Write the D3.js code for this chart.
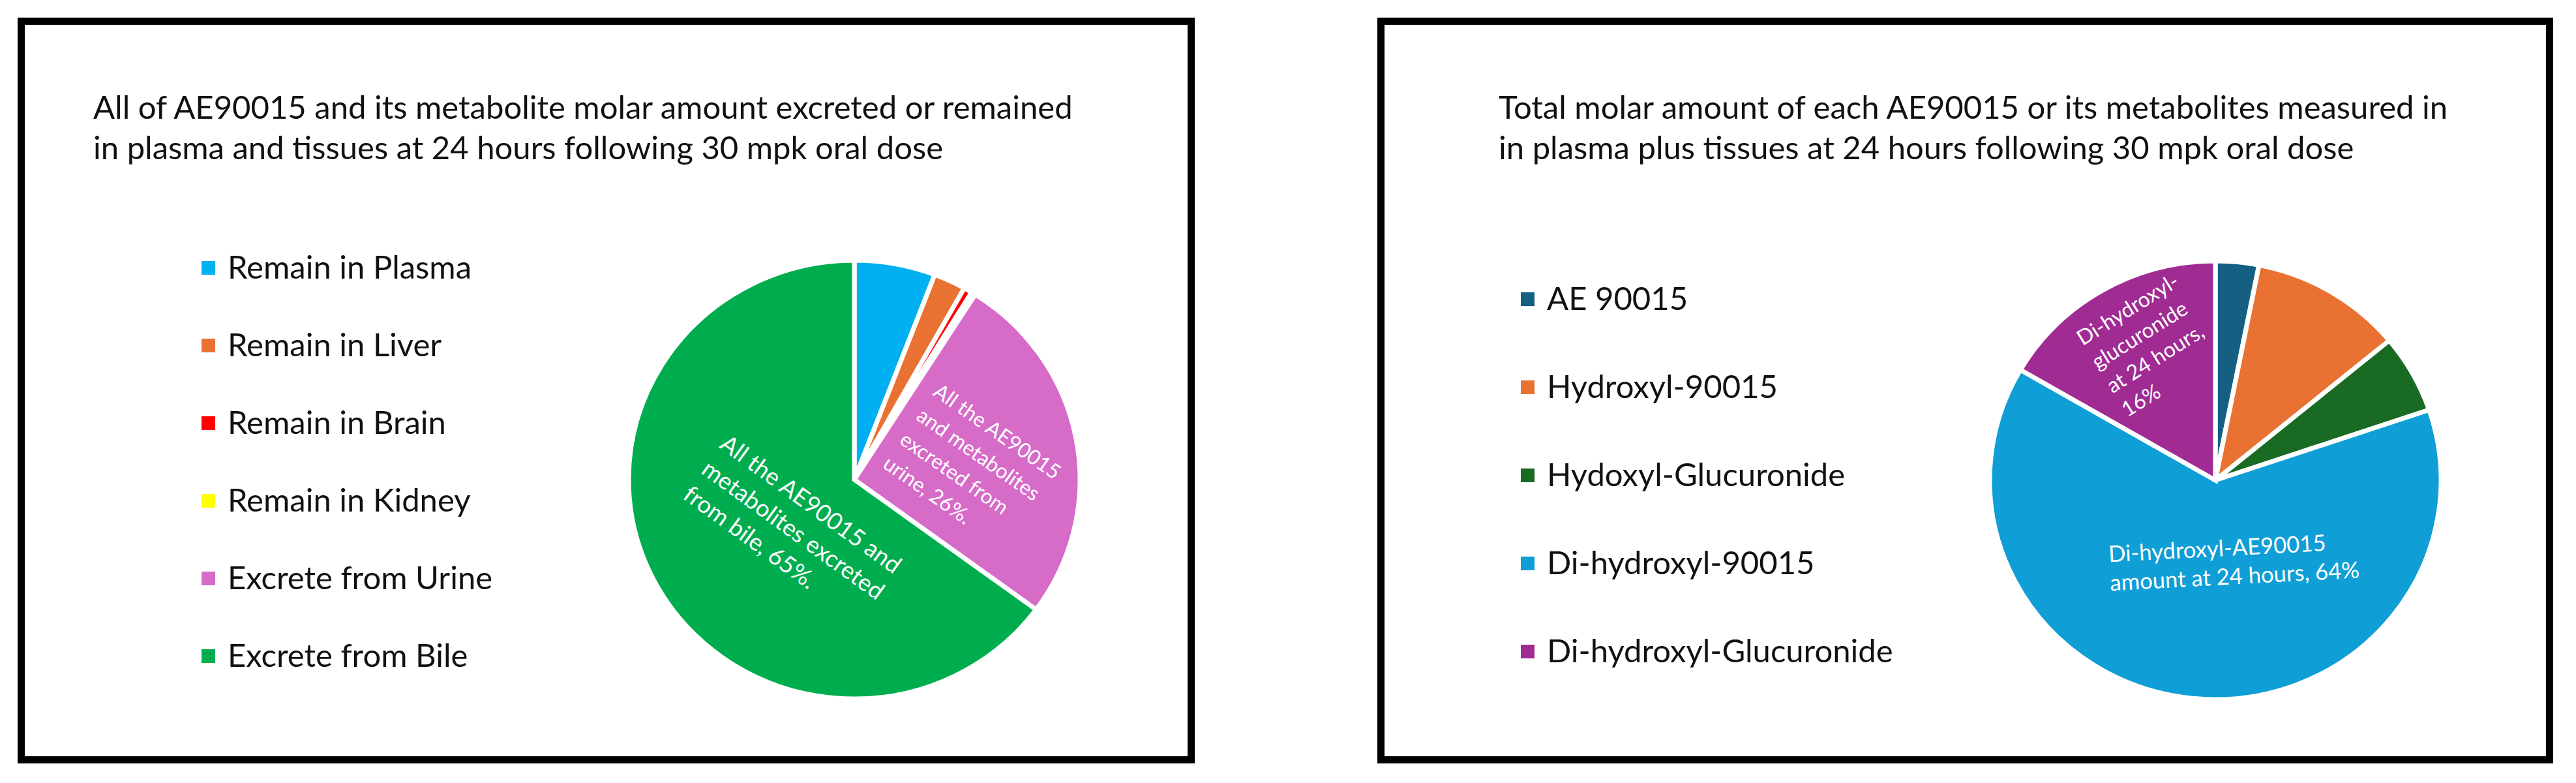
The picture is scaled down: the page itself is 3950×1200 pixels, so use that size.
<!DOCTYPE html>
<html>
<head>
<meta charset="utf-8">
<script src="https://cdn.jsdelivr.net/npm/d3@7"></script>
<style>
  body { margin: 0; background: #fff; }
  svg text { font-family: Lato, "Open Sans", sans-serif; fill: #111; }
</style>
</head>
<body>
<div id="chart"></div>
<script>
// left pie: where AE90015 ended up at 24 h
const excretionTitle = ["All of AE90015 and its metabolite molar amount excreted or remained",
  "in plasma and tissues at 24 hours following 30 mpk oral dose"];
const excretionLabels = ["Remain in Plasma", "Remain in Liver", "Remain in Brain",
  "Remain in Kidney", "Excrete from Urine", "Excrete from Bile"];
const excretionValues = [5.8, 2.3, 0.6, 0.3, 26.1, 64.9];
const excretionColors = ["#00B0F0", "#E97132", "#FF0000", "#FFFF00", "#D66CC8", "#00AD4E"];
const excretionNotes = [null, null, null, null,
  ["All the AE90015", "and metabolites", "excreted from", "urine, 26%."],
  ["All the AE90015 and", "metabolites excreted", "from bile, 65%."]];

// right pie: parent vs metabolites
const metaboliteTitle = ["Total molar amount of each AE90015 or its metabolites measured in",
  "in plasma plus tissues at 24 hours following 30 mpk oral dose"];
const metaboliteLabels = ["AE 90015", "Hydroxyl-90015", "Hydoxyl-Glucuronide",
  "Di-hydroxyl-90015", "Di-hydroxyl-Glucuronide"];
const metaboliteValues = [3.1, 10.9, 5.8, 63.6, 16.6];
const metaboliteColors = ["#156082", "#E97132", "#196B24", "#0F9ED5", "#A02B93"];
const metaboliteNotes = [null, null, null,
  ["Di-hydroxyl-AE90015", "amount at 24 hours, 64%"],
  ["Di-hydroxyl-", "glucuronide", "at 24 hours,", "16%"]];

let width = 3950, height = 1200;

let svg = d3.select('#chart')
  .append('svg')
  .attr('width', width)
  .attr('height', height);

svg.append('rect')
  .attr('width', width)
  .attr('height', height)
  .attr('fill', '#fff');

function drawPanel(opt) {
  let g = svg.append('g');

  g.append('rect')
    .attr('x', opt.box[0])
    .attr('y', opt.box[1])
    .attr('width', opt.box[2])
    .attr('height', opt.box[3])
    .attr('fill', 'none')
    .attr('stroke', '#000')
    .attr('stroke-width', 11);

  g.append('text')
    .attr('x', opt.titleX)
    .attr('y', 182)
    .style('font-size', opt.titleSize + 'px')
    .selectAll('tspan')
    .data(opt.title)
    .join('tspan')
    .attr('x', opt.titleX)
    .attr('dy', (d, i) => i === 0 ? 0 : 62)
    .text(d => d);

  // legend
  let legend = g.selectAll('.legend')
    .data(opt.labels)
    .join('g')
    .attr('transform', (d, i) => `translate(${opt.legendX},${opt.legendY + i * opt.legendStep})`);

  legend.append('rect')
    .attr('x', 0)
    .attr('y', -10)
    .attr('width', 21)
    .attr('height', 21)
    .attr('fill', (d, i) => opt.colors[i]);

  legend.append('text')
    .attr('x', 40)
    .attr('y', 17)
    .style('font-size', '49px')
    .text(d => d);

  // pie
  const pie = d3.pie().sort(null).value(d => d);
  const arcs = pie(opt.values);
  const arc = d3.arc().innerRadius(0).outerRadius(opt.r);

  g.append('g')
    .attr('transform', `translate(${opt.cx},${opt.cy}) scale(1.03,1)`)
    .selectAll('path')
    .data(arcs)
    .join('path')
    .attr('d', arc)
    .attr('fill', (d, i) => opt.colors[i])
    .attr('stroke', '#fff')
    .attr('stroke-width', 7);

  // data labels, left aligned and rotated like the original
  opt.notes.forEach(function(lines, i) {
    if (!lines) return;
    let p = opt.notePos[i];
    let t = g.append('text')
      .attr('transform', `translate(${opt.cx + p.dx},${opt.cy + p.dy}) rotate(${p.angle})`)
      .style('font-size', '40px');
    let spans = t.selectAll('tspan')
      .data(lines)
      .join('tspan')
      .attr('x', 0)
      .attr('y', (d, k) => k * p.step)
      .attr('dominant-baseline', 'central')
      .style('fill', '#fff')
      .text(d => d);
    // size the font so the first line is as long as in the original
    let len = spans.node().getComputedTextLength();
    t.style('font-size', (40 * p.len / len) + 'px');
  });
}

drawPanel({
  box: [32.5, 32.5, 1794, 1132],
  title: excretionTitle, titleX: 143, titleSize: 49,
  labels: excretionLabels, values: excretionValues, colors: excretionColors,
  legendX: 309, legendY: 410, legendStep: 119,
  cx: 1310, cy: 735, r: 336,
  notes: excretionNotes,
  notePos: [null, null, null, null,
    {dx: 126, dy: -140, angle: 35, step: 45, len: 229},
    {dx: -200, dy: -61, angle: 36, step: 48, len: 332}]
});

drawPanel({
  box: [2117.5, 32.5, 1792, 1132],
  title: metaboliteTitle, titleX: 2298, titleSize: 49,
  labels: metaboliteLabels, values: metaboliteValues, colors: metaboliteColors,
  legendX: 2332, legendY: 458, legendStep: 135,
  cx: 3397, cy: 736, r: 336,
  notes: metaboliteNotes,
  notePos: [null, null, null,
    {dx: -164, dy: 112, angle: -3, step: 44, len: 334},
    {dx: -210, dy: -216, angle: -32, step: 43, len: 177}]
});
</script>
</body>
</html>
